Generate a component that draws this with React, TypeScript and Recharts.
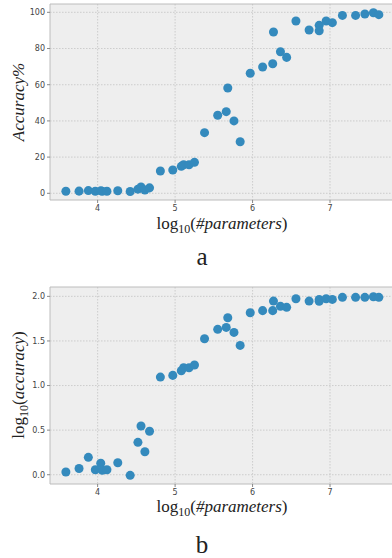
import React from "react";
import {
  CartesianGrid,
  ReferenceLine,
  Scatter,
  ScatterChart,
  XAxis,
  YAxis,
  ZAxis,
} from "recharts";

// log10(#parameters) for each model (shared by both panels)
const params = [
  3.59, 3.76, 3.88, 3.97, 4.04, 4.06, 4.12, 4.26, 4.42, 4.52, 4.56, 4.61, 4.67,
  4.81, 4.97, 5.08, 5.11, 5.18, 5.25, 5.38, 5.55, 5.66, 5.68, 5.76, 5.84, 5.97,
  6.13, 6.26, 6.27, 6.36, 6.44, 6.56, 6.73, 6.86, 6.86, 6.95, 7.03, 7.16, 7.33,
  7.45, 7.56, 7.63,
];

// panel a: accuracy in %
const accuracy = [
  1.1, 1.2, 1.5, 1.1, 1.35, 1.1, 1.1, 1.4, 1.0, 2.3, 3.5, 1.8, 3.0, 12.3, 12.9,
  14.9, 15.8, 15.8, 17.1, 33.5, 43.1, 45.1, 58.2, 40.0, 28.5, 66.3, 69.8, 71.6,
  89.1, 78.2, 75.1, 95.2, 90.2, 92.8, 89.8, 95.2, 94.3, 98.3, 98.3, 99.1, 99.8,
  98.7,
];

// panel b: log10(accuracy)
const logAccuracy = [
  0.03, 0.07, 0.195, 0.056, 0.128, 0.049, 0.056, 0.135, -0.007, 0.363, 0.546,
  0.258, 0.487, 1.095, 1.114, 1.166, 1.2, 1.2, 1.23, 1.525, 1.63, 1.652, 1.76,
  1.596, 1.45, 1.816, 1.84, 1.84, 1.947, 1.888, 1.877, 1.973, 1.947, 1.966,
  1.944, 1.973, 1.966, 1.989, 1.989, 1.989, 1.996, 1.989,
];

const xTicks = [4, 5, 6, 7];
const accTicks = [0, 20, 40, 60, 80, 100];
const logTicks = [0, 0.5, 1.0, 1.5, 2.0];

const DOT = "#348ABD";
const SPINE = "#bcbcbc";
const TICK = { fontSize: 8, fill: "#444", fontFamily: "DejaVu Sans" };

function Panel({
  values,
  yDomain,
  yTicks,
  fmt,
  top,
  marginTop,
  height,
}: {
  values: number[];
  yDomain: [number, number];
  yTicks: number[];
  fmt: (v: number) => string;
  top: number;
  marginTop: number;
  height: number;
}) {
  const data = params.map((x, i) => ({ x, y: values[i] }));
  return (
    <div style={{ position: "absolute", left: 0, top }}>
      <ScatterChart
        width={392}
        height={height}
        margin={{ top: marginTop, right: 0, bottom: 0, left: 0 }}
      >
        <CartesianGrid
          fill="#eeeeee"
          stroke="#c4c4c4"
          strokeDasharray="1.5 1.5"
          strokeWidth={0.8}
          horizontalValues={yTicks}
          verticalValues={xTicks}
        />
        <XAxis
          type="number"
          dataKey="x"
          domain={[3.385, 7.8]}
          ticks={xTicks}
          allowDataOverflow
          height={22}
          tickSize={3}
          tickMargin={2}
          tick={TICK}
          axisLine={{ stroke: SPINE }}
          tickLine={{ stroke: "#888" }}
        />
        <YAxis
          type="number"
          dataKey="y"
          domain={yDomain}
          ticks={yTicks}
          allowDataOverflow
          width={50}
          tickSize={3}
          tickMargin={2}
          tick={TICK}
          tickFormatter={fmt}
          axisLine={{ stroke: SPINE }}
          tickLine={{ stroke: "#888" }}
        />
        <ZAxis range={[32, 32]} />
        <ReferenceLine y={yDomain[1]} stroke={SPINE} />
        <Scatter data={data} fill={DOT} isAnimationActive={false} />
      </ScatterChart>
    </div>
  );
}

const serif = "'Liberation Serif', 'DejaVu Serif', serif";

function XLabel({ y }: { y: number }) {
  return (
    <text x={222} y={y} textAnchor="middle" fontFamily={serif} fontSize={17} fill="#222">
      log
      <tspan fontSize={12} dy={4}>10</tspan>
      <tspan dy={-4}>(</tspan>
      <tspan fontStyle="italic">#parameters</tspan>)
    </text>
  );
}

export default function App() {
  return (
    <div
      style={{
        position: "absolute",
        left: 0,
        top: 0,
        width: 392,
        height: 558,
        overflow: "hidden",
        background: "#fff",
      }}
    >
      <Panel
        values={accuracy}
        yDomain={[-3.7, 104.6]}
        yTicks={accTicks}
        fmt={(v) => String(v)}
        top={0}
        marginTop={4}
        height={222}
      />
      <Panel
        values={logAccuracy}
        yDomain={[-0.104, 2.105]}
        yTicks={logTicks}
        fmt={(v) => v.toFixed(1)}
        top={280}
        marginTop={7}
        height={226}
      />
      <svg
        width={392}
        height={558}
        style={{ position: "absolute", left: 0, top: 0, pointerEvents: "none" }}
      >
        <text
          transform="translate(24,102) rotate(-90)"
          textAnchor="middle"
          fontFamily={serif}
          fontStyle="italic"
          fontSize={17}
          fill="#222"
        >
          Accuracy%
        </text>
        <XLabel y={229} />
        <text x={202} y={265} textAnchor="middle" fontFamily={serif} fontSize={25} fill="#222">
          a
        </text>

        <text
          transform="translate(24,385) rotate(-90)"
          textAnchor="middle"
          fontFamily={serif}
          fontSize={17}
          fill="#222"
        >
          log
          <tspan fontSize={12} dy={4}>10</tspan>
          <tspan dy={-4}>(</tspan>
          <tspan fontStyle="italic">accuracy</tspan>)
        </text>
        <XLabel y={512} />
        <text x={202} y={553} textAnchor="middle" fontFamily={serif} fontSize={25} fill="#222">
          b
        </text>
      </svg>
    </div>
  );
}
